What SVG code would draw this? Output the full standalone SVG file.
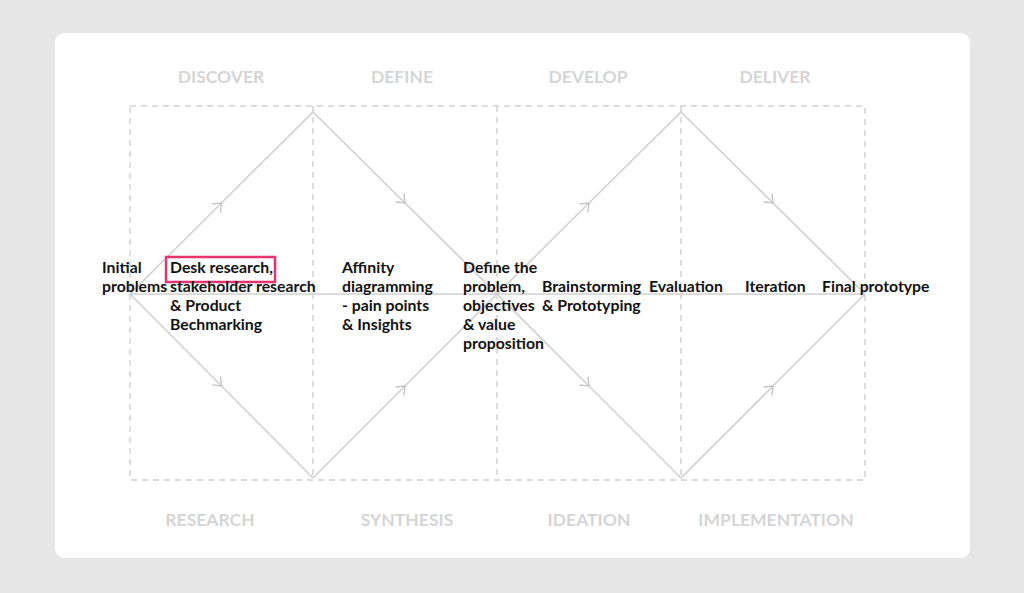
<svg xmlns="http://www.w3.org/2000/svg" width="1024" height="593" viewBox="0 0 1024 593">
<defs>
<marker id="chev" viewBox="-9 -7 11 14" markerWidth="11" markerHeight="14" markerUnits="userSpaceOnUse" orient="auto" refX="0" refY="0">
<path d="M-7.5,-6 L0,0 L-7.5,6" fill="none" stroke="#c4c4c4" stroke-width="1.4"/>
</marker>
</defs>
<style>
.dash{fill:none;stroke:#d2d2d2;stroke-width:1.5;stroke-dasharray:6 5}
.flow{fill:none;stroke:#d0d0d0;stroke-width:1.6;marker-mid:url(#chev)}
.axis{fill:none;stroke:#d0d0d0;stroke-width:1.6}
.phase{font-family:Lato,"Liberation Sans",sans-serif;font-weight:bold;font-size:17.5px;fill:#d5d5d5;text-anchor:middle}
.lbl{font-family:Lato,"Liberation Sans",sans-serif;font-weight:bold;font-size:15.8px;fill:#111}
</style>
<rect x="0" y="0" width="1024" height="593" fill="#e6e6e6"/>
<rect x="55" y="33" width="915" height="525" rx="9" fill="#ffffff"/>
<g id="grid">
<rect class="dash" x="130" y="106" width="735" height="374"/>
<line class="dash" x1="313" y1="106" x2="313" y2="480"/>
<line class="dash" x1="497" y1="106" x2="497" y2="480"/>
<line class="dash" x1="681" y1="106" x2="681" y2="480"/>
</g>
<g id="phases">
<text class="phase" x="221" y="83">DISCOVER</text>
<text class="phase" x="402" y="83">DEFINE</text>
<text class="phase" x="588" y="83">DEVELOP</text>
<text class="phase" x="775" y="83">DELIVER</text>
<text class="phase" x="210" y="526">RESEARCH</text>
<text class="phase" x="407" y="526">SYNTHESIS</text>
<text class="phase" x="589" y="526">IDEATION</text>
<text class="phase" x="776" y="526">IMPLEMENTATION</text>
</g>
<g id="connectors">
<line class="axis" x1="130" y1="294" x2="865" y2="294"/>
<path class="flow" d="M130,294 L221.5,203 L313,112"/>
<path class="flow" d="M313,112 L405,203 L497,294"/>
<path class="flow" d="M130,294 L221.5,386 L313,478"/>
<path class="flow" d="M313,478 L405,386 L497,294"/>
<path class="flow" d="M497,294 L589,203 L681,112"/>
<path class="flow" d="M681,112 L773,203 L865,294"/>
<path class="flow" d="M497,294 L589,386 L681,478"/>
<path class="flow" d="M681,478 L773,386 L865,294"/>
</g>
<g id="node-initial">
<text class="lbl" x="102" y="273">Initial</text>
<text class="lbl" x="102" y="292">problems</text>
</g>
<g id="node-desk">
<rect x="166" y="257" width="109" height="25" fill="none" stroke="#e8336d" stroke-width="2.5"/>
<text class="lbl" x="170" y="273">Desk research,</text>
<text class="lbl" x="170" y="292">stakeholder research</text>
<text class="lbl" x="170" y="311">&amp; Product</text>
<text class="lbl" x="170" y="330">Bechmarking</text>
</g>
<g id="node-affinity">
<text class="lbl" x="342" y="273">Affinity</text>
<text class="lbl" x="342" y="292">diagramming</text>
<text class="lbl" x="342" y="311">- pain points</text>
<text class="lbl" x="342" y="330">&amp; Insights</text>
</g>
<g id="node-define">
<text class="lbl" x="463" y="273">Define the</text>
<text class="lbl" x="463" y="292">problem,</text>
<text class="lbl" x="463" y="311">objectives</text>
<text class="lbl" x="463" y="330">&amp; value</text>
<text class="lbl" x="463" y="349">proposition</text>
</g>
<g id="node-brainstorm">
<text class="lbl" x="542" y="292">Brainstorming</text>
<text class="lbl" x="542" y="311">&amp; Prototyping</text>
</g>
<g id="node-evaluation">
<text class="lbl" x="649" y="292">Evaluation</text>
</g>
<g id="node-iteration">
<text class="lbl" x="745" y="292">Iteration</text>
</g>
<g id="node-final">
<text class="lbl" x="822" y="292">Final prototype</text>
</g>
</svg>
